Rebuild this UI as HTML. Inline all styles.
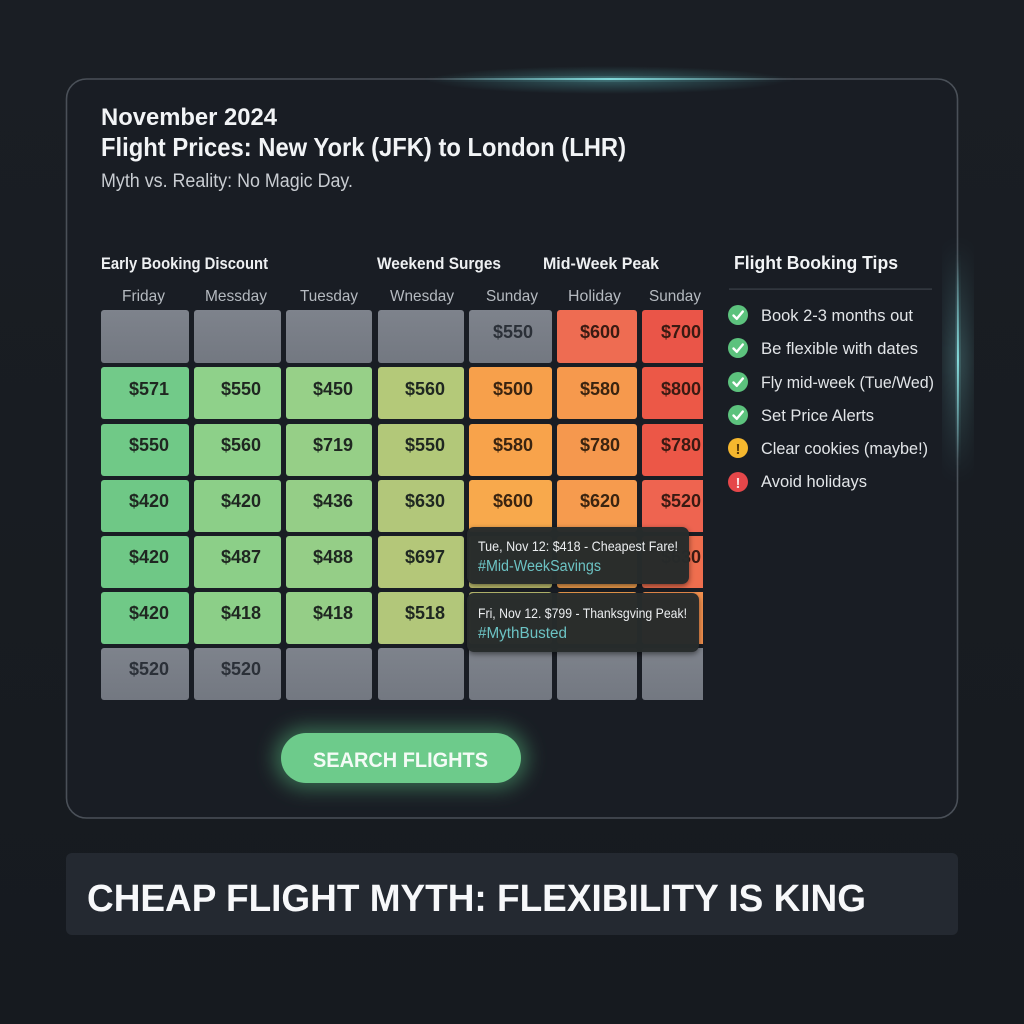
<!DOCTYPE html>
<html>
<head>
<meta charset="utf-8">
<style>
  html,body{margin:0;padding:0;background:#171b21;}
  svg{display:block;}
  text{font-family:"Liberation Sans", Arial, sans-serif;}
</style>
</head>
<body>
<svg width="1024" height="1024" viewBox="0 0 1024 1024" xmlns="http://www.w3.org/2000/svg">
  <defs>
    <linearGradient id="bg" x1="0" y1="0" x2="0" y2="1">
      <stop offset="0" stop-color="#1a1e24"/>
      <stop offset="1" stop-color="#161a1f"/>
    </linearGradient>
    <linearGradient id="topGlow" x1="0" y1="0" x2="1" y2="0">
      <stop offset="0" stop-color="#7fe3e6" stop-opacity="0"/>
      <stop offset="0.5" stop-color="#8ff0f0" stop-opacity="1"/>
      <stop offset="1" stop-color="#7fe3e6" stop-opacity="0"/>
    </linearGradient>
    <linearGradient id="rightGlow" x1="0" y1="0" x2="0" y2="1">
      <stop offset="0" stop-color="#7fe3e6" stop-opacity="0"/>
      <stop offset="0.5" stop-color="#8ff0f0" stop-opacity="1"/>
      <stop offset="1" stop-color="#7fe3e6" stop-opacity="0"/>
    </linearGradient>
    <radialGradient id="topHalo" cx="0.5" cy="0.5" r="0.5">
      <stop offset="0" stop-color="#5fc9cc" stop-opacity="0.35"/>
      <stop offset="1" stop-color="#5fc9cc" stop-opacity="0"/>
    </radialGradient>
    <filter id="blur6" x="-50%" y="-50%" width="200%" height="200%">
      <feGaussianBlur stdDeviation="6"/>
    </filter>
    <filter id="blur10" x="-50%" y="-50%" width="200%" height="200%">
      <feGaussianBlur stdDeviation="10"/>
    </filter>
    <filter id="shadow" x="-20%" y="-20%" width="140%" height="160%">
      <feDropShadow dx="0" dy="2" stdDeviation="3" flood-color="#000" flood-opacity="0.5"/>
    </filter>
    <linearGradient id="gray" x1="0" y1="0" x2="0" y2="1">
      <stop offset="0" stop-color="#7e838c"/>
      <stop offset="1" stop-color="#737881"/>
    </linearGradient>
    <clipPath id="gridClip">
      <rect x="90" y="300" width="613" height="410"/>
    </clipPath>
  </defs>

  <!-- background -->
  <rect width="1024" height="1024" fill="url(#bg)"/>

  <!-- panel -->
  <rect x="66.5" y="79" width="891" height="739" rx="20" fill="#191d24" stroke="#4a5058" stroke-width="1.6"/>
  <!-- glows -->
  <ellipse cx="608" cy="80" rx="180" ry="14" fill="url(#topHalo)"/>
  <rect x="420" y="77.5" width="380" height="3" fill="url(#topGlow)" filter="url(#blur6)" opacity="0.8"/>
  <rect x="440" y="78.2" width="340" height="1.6" fill="url(#topGlow)"/>
  <rect x="950" y="240" width="16" height="240" fill="url(#rightGlow)" filter="url(#blur10)" opacity="0.35"/>
  <rect x="956.5" y="250" width="3" height="220" fill="url(#rightGlow)" filter="url(#blur6)" opacity="0.8"/>
  <rect x="957.2" y="260" width="1.6" height="200" fill="url(#rightGlow)"/>

  <!-- titles -->
  <text x="101" y="125" font-size="24" font-weight="bold" fill="#f2f4f6" textLength="176" lengthAdjust="spacingAndGlyphs">November 2024</text>
  <text x="101" y="156" font-size="26" font-weight="bold" fill="#f2f4f6" textLength="525" lengthAdjust="spacingAndGlyphs">Flight Prices: New York (JFK) to London (LHR)</text>
  <text x="101" y="187" font-size="19" fill="#c9cdd2" textLength="252" lengthAdjust="spacingAndGlyphs">Myth vs. Reality: No Magic Day.</text>

  <!-- group labels -->
  <text x="101" y="269" font-size="16.5" font-weight="bold" fill="#eef0f2" textLength="167" lengthAdjust="spacingAndGlyphs">Early Booking Discount</text>
  <text x="377" y="269" font-size="16.5" font-weight="bold" fill="#eef0f2" textLength="124" lengthAdjust="spacingAndGlyphs">Weekend Surges</text>
  <text x="543" y="269" font-size="16.5" font-weight="bold" fill="#eef0f2" textLength="116" lengthAdjust="spacingAndGlyphs">Mid-Week Peak</text>

  <!-- headers -->
  <g font-size="16" fill="#b5bac0">
    <text x="122" y="301" textLength="43" lengthAdjust="spacingAndGlyphs">Friday</text>
    <text x="205" y="301" textLength="62" lengthAdjust="spacingAndGlyphs">Messday</text>
    <text x="300" y="301" textLength="58" lengthAdjust="spacingAndGlyphs">Tuesday</text>
    <text x="390" y="301" textLength="64" lengthAdjust="spacingAndGlyphs">Wnesday</text>
    <text x="486" y="301" textLength="52" lengthAdjust="spacingAndGlyphs">Sunday</text>
    <text x="568" y="301" textLength="53" lengthAdjust="spacingAndGlyphs">Holiday</text>
    <text x="649" y="301" textLength="52" lengthAdjust="spacingAndGlyphs">Sunday</text>
  </g>

  <!-- grid -->
  <g clip-path="url(#gridClip)">
    <!-- row 1 y=310 -->
    <rect x="101" y="310" width="88" height="53" rx="3" fill="url(#gray)"/>
    <rect x="194" y="310" width="87" height="53" rx="3" fill="url(#gray)"/>
    <rect x="286" y="310" width="86" height="53" rx="3" fill="url(#gray)"/>
    <rect x="378" y="310" width="86" height="53" rx="3" fill="url(#gray)"/>
    <rect x="469" y="310" width="83" height="53" rx="3" fill="url(#gray)"/>
    <rect x="557" y="310" width="80" height="53" rx="3" fill="#ee6c52"/>
    <rect x="642" y="310" width="70" height="53" rx="3" fill="#ea5548"/>
    <!-- row 2 y=367 -->
    <rect x="101" y="367" width="88" height="52" rx="3" fill="#72ca89"/>
    <rect x="194" y="367" width="87" height="52" rx="3" fill="#8fd18a"/>
    <rect x="286" y="367" width="86" height="52" rx="3" fill="#97d088"/>
    <rect x="378" y="367" width="86" height="52" rx="3" fill="#b4c979"/>
    <rect x="469" y="367" width="83" height="52" rx="3" fill="#f7a04b"/>
    <rect x="557" y="367" width="80" height="52" rx="3" fill="#f6994d"/>
    <rect x="642" y="367" width="70" height="52" rx="3" fill="#ec5847"/>
    <!-- row 3 y=424 -->
    <rect x="101" y="424" width="88" height="52" rx="3" fill="#70c987"/>
    <rect x="194" y="424" width="87" height="52" rx="3" fill="#8dd089"/>
    <rect x="286" y="424" width="86" height="52" rx="3" fill="#96cf87"/>
    <rect x="378" y="424" width="86" height="52" rx="3" fill="#b2c879"/>
    <rect x="469" y="424" width="83" height="52" rx="3" fill="#f8a34b"/>
    <rect x="557" y="424" width="80" height="52" rx="3" fill="#f5984e"/>
    <rect x="642" y="424" width="70" height="52" rx="3" fill="#ec5747"/>
    <!-- row 4 y=480 -->
    <rect x="101" y="480" width="88" height="52" rx="3" fill="#6fc886"/>
    <rect x="194" y="480" width="87" height="52" rx="3" fill="#8ccf88"/>
    <rect x="286" y="480" width="86" height="52" rx="3" fill="#95ce87"/>
    <rect x="378" y="480" width="86" height="52" rx="3" fill="#b2c77a"/>
    <rect x="469" y="480" width="83" height="52" rx="3" fill="#f8a94c"/>
    <rect x="557" y="480" width="80" height="52" rx="3" fill="#f69b4e"/>
    <rect x="642" y="480" width="70" height="52" rx="3" fill="#ee6450"/>
    <!-- row 5 y=536 -->
    <rect x="101" y="536" width="88" height="52" rx="3" fill="#6fc886"/>
    <rect x="194" y="536" width="87" height="52" rx="3" fill="#8ccf88"/>
    <rect x="286" y="536" width="86" height="52" rx="3" fill="#95ce87"/>
    <rect x="378" y="536" width="86" height="52" rx="3" fill="#b4c779"/>
    <rect x="469" y="536" width="83" height="52" rx="3" fill="#c3c270"/>
    <rect x="557" y="536" width="80" height="52" rx="3" fill="#f4a04e"/>
    <rect x="642" y="536" width="70" height="52" rx="3" fill="#ef6e4e"/>
    <!-- row 6 y=592 -->
    <rect x="101" y="592" width="88" height="52" rx="3" fill="#70c987"/>
    <rect x="194" y="592" width="87" height="52" rx="3" fill="#8ccf88"/>
    <rect x="286" y="592" width="86" height="52" rx="3" fill="#95ce87"/>
    <rect x="378" y="592" width="86" height="52" rx="3" fill="#b2c77a"/>
    <rect x="469" y="592" width="83" height="52" rx="3" fill="#c0c272"/>
    <rect x="557" y="592" width="80" height="52" rx="3" fill="#f5a04e"/>
    <rect x="642" y="592" width="70" height="52" rx="3" fill="#f3904e"/>
    <!-- row 7 y=648 -->
    <rect x="101" y="648" width="88" height="52" rx="3" fill="url(#gray)"/>
    <rect x="194" y="648" width="87" height="52" rx="3" fill="url(#gray)"/>
    <rect x="286" y="648" width="86" height="52" rx="3" fill="url(#gray)"/>
    <rect x="378" y="648" width="86" height="52" rx="3" fill="url(#gray)"/>
    <rect x="469" y="648" width="83" height="52" rx="3" fill="url(#gray)"/>
    <rect x="557" y="648" width="80" height="52" rx="3" fill="url(#gray)"/>
    <rect x="642" y="648" width="70" height="52" rx="3" fill="url(#gray)"/>

    <!-- cell text -->
    <g font-size="18" font-weight="bold" fill="#1f2721" text-anchor="middle">
      <text x="513" y="338" fill="#2b3038">$550</text>
      <text x="600" y="338" fill="#3a1a12">$600</text>
      <text x="681" y="338" fill="#3a1a12">$700</text>

      <text x="149" y="395">$571</text>
      <text x="241" y="395">$550</text>
      <text x="333" y="395">$450</text>
      <text x="425" y="395">$560</text>
      <text x="513" y="395" fill="#3a2410">$500</text>
      <text x="600" y="395" fill="#3a2410">$580</text>
      <text x="681" y="395" fill="#3a1a12">$800</text>

      <text x="149" y="451">$550</text>
      <text x="241" y="451">$560</text>
      <text x="333" y="451">$719</text>
      <text x="425" y="451">$550</text>
      <text x="513" y="451" fill="#3a2410">$580</text>
      <text x="600" y="451" fill="#3a2410">$780</text>
      <text x="681" y="451" fill="#3a1a12">$780</text>

      <text x="149" y="507">$420</text>
      <text x="241" y="507">$420</text>
      <text x="333" y="507">$436</text>
      <text x="425" y="507">$630</text>
      <text x="513" y="507" fill="#3a2410">$600</text>
      <text x="600" y="507" fill="#3a2410">$620</text>
      <text x="681" y="507" fill="#3a1a12">$520</text>

      <text x="149" y="563">$420</text>
      <text x="241" y="563">$487</text>
      <text x="333" y="563">$488</text>
      <text x="425" y="563">$697</text>
      <text x="681" y="563" fill="#3a1a12">$630</text>

      <text x="149" y="619">$420</text>
      <text x="241" y="619">$418</text>
      <text x="333" y="619">$418</text>
      <text x="425" y="619">$518</text>

      <text x="149" y="675" fill="#2b3038">$520</text>
      <text x="241" y="675" fill="#2b3038">$520</text>
    </g>
  </g>

  <!-- tooltips -->
  <rect x="467" y="527" width="222" height="57" rx="7" fill="#27292c" fill-opacity="0.97" filter="url(#shadow)"/>
  <text x="478" y="551" font-size="14" fill="#eceef0" textLength="200" lengthAdjust="spacingAndGlyphs">Tue, Nov 12: $418 - Cheapest Fare!</text>
  <text x="478" y="571" font-size="15.5" fill="#6cc3c4" textLength="123" lengthAdjust="spacingAndGlyphs">#Mid-WeekSavings</text>

  <rect x="467" y="593" width="232" height="59" rx="7" fill="#27292c" fill-opacity="0.97" filter="url(#shadow)"/>
  <text x="478" y="618" font-size="14" fill="#eceef0" textLength="209" lengthAdjust="spacingAndGlyphs">Fri, Nov 12. $799 - Thanksgving Peak!</text>
  <text x="478" y="638" font-size="15.5" fill="#6cc3c4" textLength="89" lengthAdjust="spacingAndGlyphs">#MythBusted</text>

  <!-- tips panel -->
  <text x="734" y="269" font-size="18" font-weight="bold" fill="#f2f4f6" textLength="164" lengthAdjust="spacingAndGlyphs">Flight Booking Tips</text>
  <rect x="729" y="288.5" width="203" height="1.2" fill="#3c424a"/>

  <g>
    <circle cx="738" cy="315" r="10" fill="#5cc27d"/>
    <path d="M733.5 315.5 L736.8 318.8 L742.8 311.5" stroke="#fff" stroke-width="2.4" fill="none" stroke-linecap="round" stroke-linejoin="round"/>
    <circle cx="738" cy="348" r="10" fill="#5cc27d"/>
    <path d="M733.5 348.5 L736.8 351.8 L742.8 344.5" stroke="#fff" stroke-width="2.4" fill="none" stroke-linecap="round" stroke-linejoin="round"/>
    <circle cx="738" cy="382" r="10" fill="#5cc27d"/>
    <path d="M733.5 382.5 L736.8 385.8 L742.8 378.5" stroke="#fff" stroke-width="2.4" fill="none" stroke-linecap="round" stroke-linejoin="round"/>
    <circle cx="738" cy="415" r="10" fill="#5cc27d"/>
    <path d="M733.5 415.5 L736.8 418.8 L742.8 411.5" stroke="#fff" stroke-width="2.4" fill="none" stroke-linecap="round" stroke-linejoin="round"/>
    <circle cx="738" cy="448" r="10" fill="#f5b72e"/>
    <text x="738" y="454" font-size="15" font-weight="bold" fill="#5a3a08" text-anchor="middle">!</text>
    <circle cx="738" cy="482" r="10" fill="#e5474a"/>
    <text x="738" y="488" font-size="15" font-weight="bold" fill="#fbe1e1" text-anchor="middle">!</text>
  </g>

  <g font-size="16.5" fill="#e2e5e8">
    <text x="761" y="321" textLength="152" lengthAdjust="spacingAndGlyphs">Book 2-3 months out</text>
    <text x="761" y="354" textLength="157" lengthAdjust="spacingAndGlyphs">Be flexible with dates</text>
    <text x="761" y="388" textLength="173" lengthAdjust="spacingAndGlyphs">Fly mid-week (Tue/Wed)</text>
    <text x="761" y="421" textLength="113" lengthAdjust="spacingAndGlyphs">Set Price Alerts</text>
    <text x="761" y="454" textLength="167" lengthAdjust="spacingAndGlyphs">Clear cookies (maybe!)</text>
    <text x="761" y="487" textLength="106" lengthAdjust="spacingAndGlyphs">Avoid holidays</text>
  </g>

  <!-- button -->
  <rect x="275" y="728" width="252" height="60" rx="30" fill="#5fd08a" opacity="0.45" filter="url(#blur10)"/>
  <rect x="281" y="733" width="240" height="50" rx="25" fill="#6dcb8b"/>
  <text x="313" y="767" font-size="21" font-weight="bold" fill="#f4fbf6" textLength="175" lengthAdjust="spacingAndGlyphs">SEARCH FLIGHTS</text>

  <!-- banner -->
  <rect x="66" y="853" width="892" height="82" rx="6" fill="#242931"/>
  <text x="87" y="911" font-size="38" font-weight="bold" fill="#f7f8fa" textLength="779" lengthAdjust="spacingAndGlyphs">CHEAP FLIGHT MYTH: FLEXIBILITY IS KING</text>
</svg>
</body>
</html>
